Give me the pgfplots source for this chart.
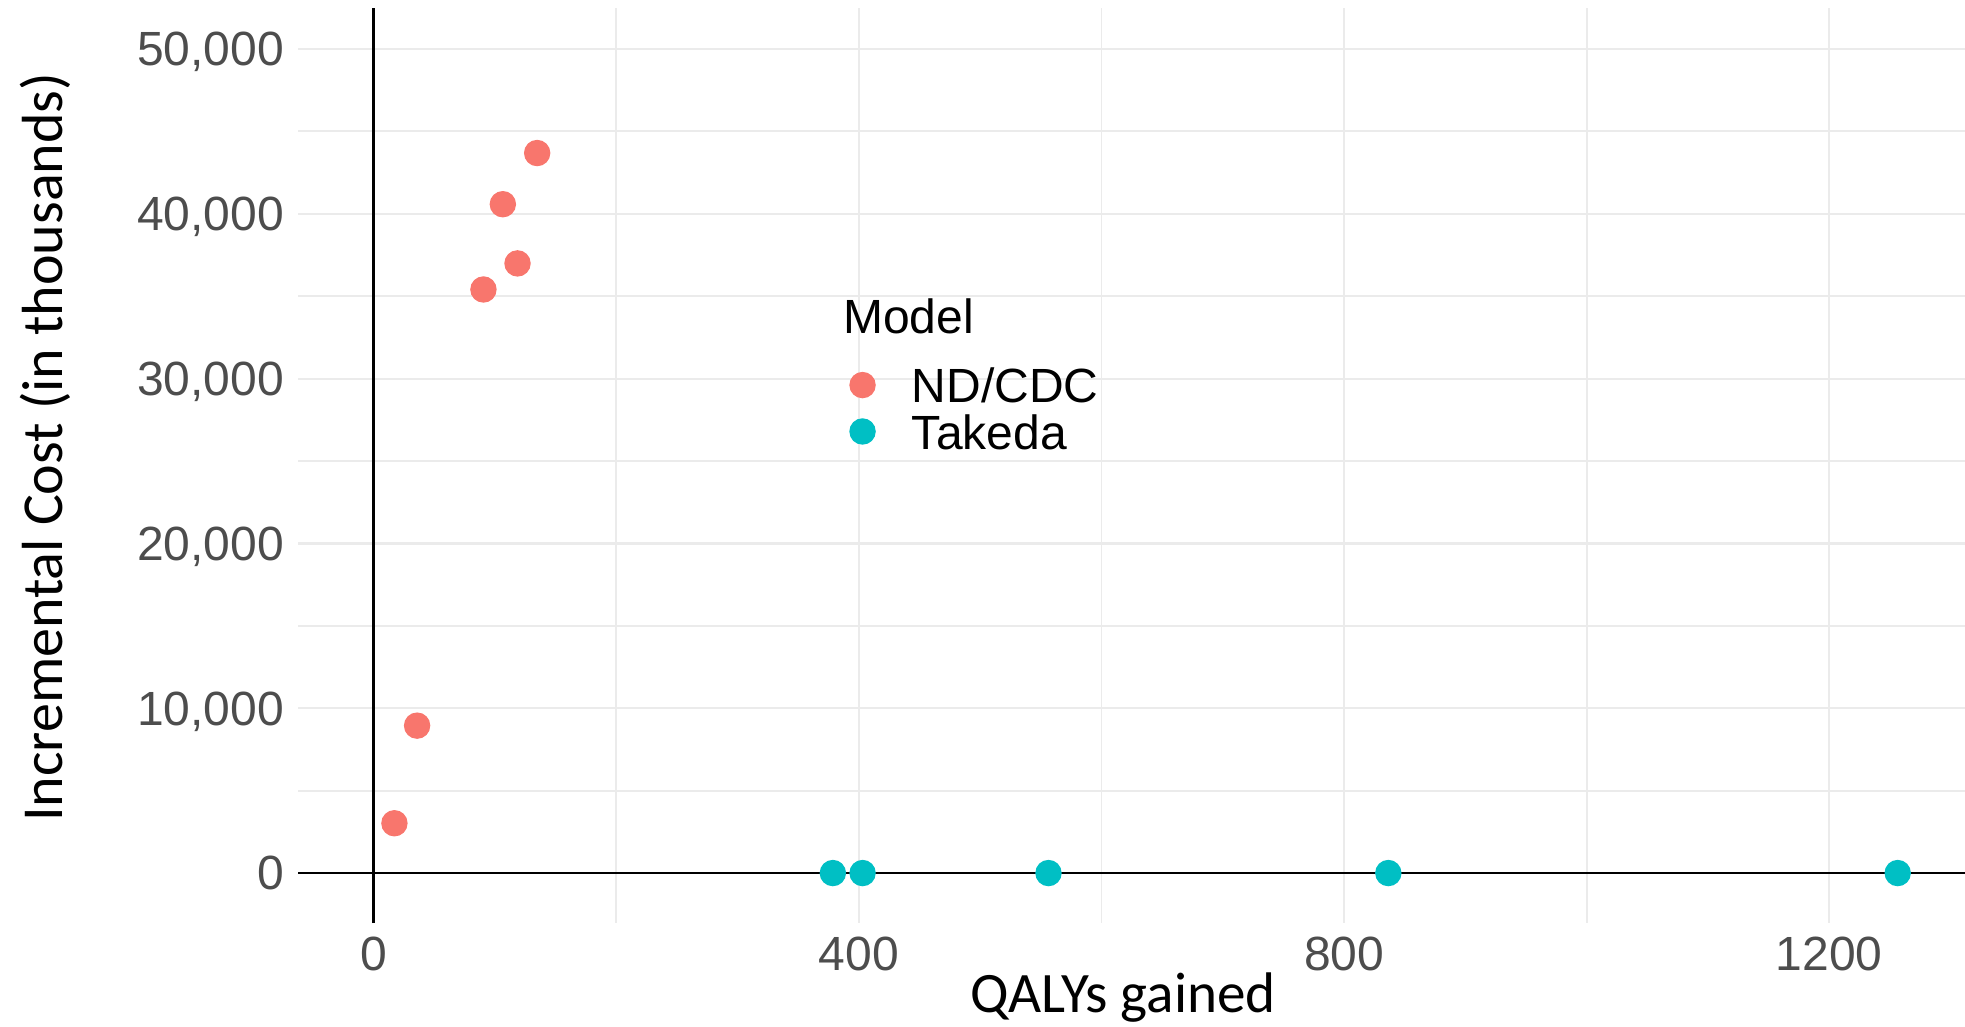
\documentclass[border=0pt]{standalone}
\usepackage{fontspec}
\setmainfont{Liberation Sans}
\newfontfamily\calibri{Carlito}
\usepackage{pgfplots}
\pgfplotsset{compat=1.18}
\definecolor{ndcdc}{HTML}{F8766D}
\definecolor{takeda}{HTML}{00BFC4}
\definecolor{gridgray}{HTML}{EBEBEB}
\definecolor{tickgray}{HTML}{4D4D4D}
\begin{document}
\begin{tikzpicture}
\begin{axis}[
  scale only axis,
  width=416.75pt, height=228.8pt,
  at={(0,0)}, anchor=south west,
  xmin=-62.5, xmax=1312,
  ymin=-3030, ymax=52500,
  axis line style={draw=none},
  tick style={draw=none},
  major tick length=0pt, minor tick length=0pt,
  xtick={0,400,800,1200},
  xticklabels={0,400,800,1200},
  minor xtick={200,600,1000},
  ytick={0,10000,20000,30000,40000,50000},
  minor ytick={5000,15000,25000,35000,45000},
  grid=both,
  major grid style={gridgray, line width=0.55pt},
  minor grid style={gridgray, line width=0.45pt},
  scaled ticks=false,
  /pgf/number format/.cd, 1000 sep={,}, assume math mode=true,
  /pgfplots/.cd,
  every tick label/.append style={font=\fontsize{12}{14}\selectfont, color=tickgray},
  yticklabel style={text depth=0pt},
  xlabel={QALYs gained},
  ylabel={Incremental Cost (in thousands)},
  xlabel style={at={(axis description cs:0.4949,-0.0979)}, anchor=base, font=\calibri\fontsize{14.3}{16}\selectfont, inner sep=0pt},
  ylabel style={at={(axis description cs:-0.1410,0.5197)}, anchor=base, rotate=0, font=\calibri\fontsize{14.5}{16}\selectfont, inner sep=0pt},
  legend style={at={(axis description cs:0.3311,0.6131)}, anchor=north west, draw=none, fill=none,
    inner sep=0pt, outer sep=0pt, column sep=9.2pt, row sep=0pt,
    nodes={inner sep=0pt, text height=10.2pt, text depth=1.4pt, font=\fontsize{12}{14}\selectfont}},
  legend cell align=left,
  legend image code/.code={\draw[#1] plot coordinates {(0pt,0pt)};},
  clip=true,
]
\addplot[black, line width=0.7pt, forget plot] coordinates {(0,-3030) (0,52500)};
\addplot[black, line width=0.7pt, forget plot] coordinates {(-62.5,0) (1312,0)};
\addplot[only marks, mark=*, color=ndcdc, mark size=3.15pt, mark options={draw=ndcdc, fill=ndcdc, line width=0.3pt}] coordinates {
  (17.0,3022) (35.7,8944) (90.4,35408) (106.4,40581) (118.5,36990) (134.7,43686)
};
\addlegendentry{ND/CDC}
\addplot[only marks, mark=*, color=takeda, mark size=3.15pt, mark options={draw=takeda, fill=takeda, line width=0.3pt}] coordinates {
  (378.5,0) (403,0) (556.3,0) (836.5,0) (1256.5,0)
};
\addlegendentry{Takeda}
\node[anchor=base west, inner sep=0pt, font=\fontsize{12}{14}\selectfont] at (axis description cs:0.3265,0.6436) {Model};
\end{axis}
\pgfresetboundingbox
\useasboundingbox (-74.5pt,-25.75pt) rectangle (416.75pt,230.75pt);
\end{tikzpicture}
\end{document}
